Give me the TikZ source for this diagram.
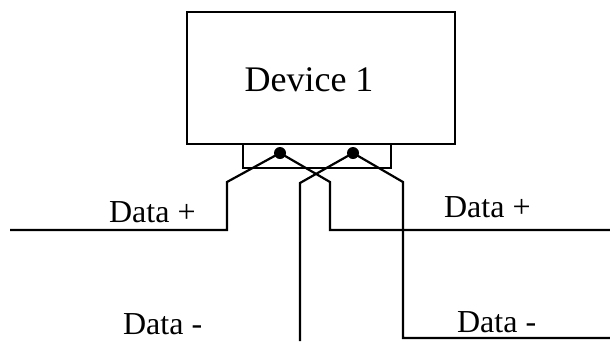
\documentclass[tikz,border=0pt]{standalone}
\usepackage{fontspec}
\setmainfont{Liberation Serif}
\begin{document}
\begin{tikzpicture}[x=1pt,y=-1pt,line width=2.2pt,
   lbl/.style={font=\fontsize{32}{32}\selectfont,inner sep=0pt,anchor=base west},
   pin/.style={circle,fill,inner sep=0pt,minimum size=12pt}]
   \useasboundingbox (0,0) rectangle (610,341);

   \draw (187,12) rectangle (455,144);
   \node[font=\fontsize{36}{36}\selectfont] (dev) at (309,80) {Device 1};
   \draw (243,144) rectangle (391,168);

   \node[pin] (pa) at (280,153) {};
   \node[pin] (pb) at (353,153) {};

   \coordinate (la) at (10,230);
   \coordinate (ra) at (610,230);
   \coordinate (lb) at (300,341);
   \coordinate (rb) at (610,338);

   \draw (pa.center) -- (227,182) -- (227,230) -- (la);
   \draw (pa.center) -- (330,182) -- (330,230) -- (ra);
   \draw (pb.center) -- (300,183) -- (lb);
   \draw (pb.center) -- (403,182) -- (403,338) -- (rb);

   \node[lbl] (dpl) at (108,222) {Data +};
   \node[lbl] (dpr) at (443,217) {Data +};
   \node[lbl] (dml) at (122,334) {Data -};
   \node[lbl] (dmr) at (456,332) {Data -};
 \end{tikzpicture}
\end{document}
